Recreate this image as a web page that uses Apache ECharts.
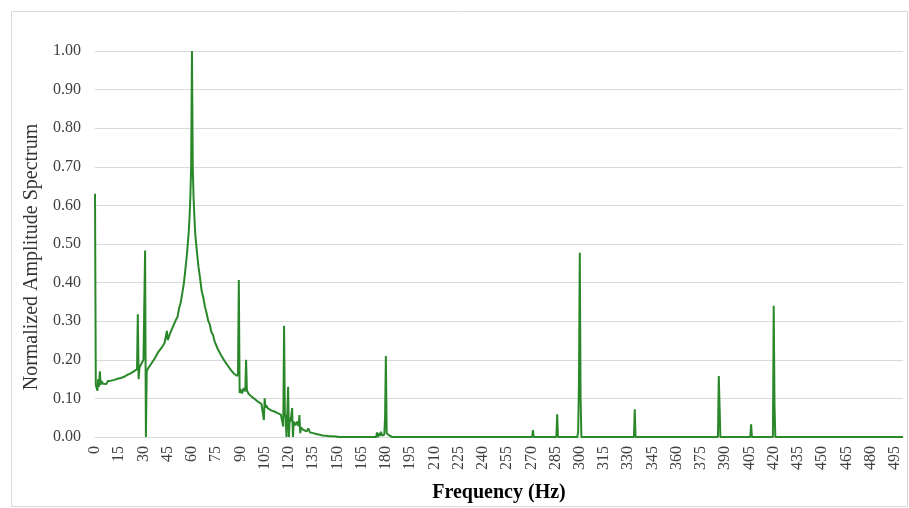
<!DOCTYPE html>
<html>
<head>
<meta charset="utf-8">
<script src="https://cdn.jsdelivr.net/npm/echarts@6/dist/echarts.min.js"></script>
<style>
html,body{margin:0;padding:0;background:#fff;}
#c{width:909px;height:508px;}
</style>
</head>
<body>
<div id="c"></div>
<script>
// Frequency (Hz) and normalized amplitude
const freq = [
  0, 0.5, 1, 1.5, 2, 2.5, 3, 3.5, 4, 5, 6, 7, 8, 9, 10, 11, 12, 13, 14, 15,
  16, 17, 18, 19, 20, 21, 22, 23, 24, 25, 26, 26.5, 27, 27.5, 28, 29, 30, 30.5, 31, 31.5,
  32, 33, 34, 35, 36, 37, 38, 39, 40, 41, 42, 43, 44, 44.5, 45, 45.5, 46, 47, 48, 49,
  50, 51, 52, 53, 54, 55, 56, 57, 58, 58.5, 59, 59.5, 60, 60.5, 61, 61.5, 62, 63, 64, 65,
  66, 67, 68, 69, 70, 71, 72, 73, 74, 75, 76, 77, 78, 79, 80, 81, 82, 83, 84, 85,
  86, 87, 88, 88.5, 89, 89.5, 90, 91, 92, 93, 93.5, 94, 95, 96, 97, 98, 99, 100, 101, 102,
  103, 104, 104.5, 105, 105.5, 106, 107, 108, 109, 110, 111, 112, 113, 114, 115, 116, 116.5, 117, 117.5, 118,
  118.5, 119, 119.5, 120, 120.5, 121, 121.5, 122, 122.5, 123, 123.5, 124, 125, 126, 126.5, 127, 127.5, 128, 129, 130,
  131, 132, 133, 134, 135, 136, 137, 138, 139, 140, 141, 142, 143, 144, 145, 146, 147, 148, 149, 150,
  151, 174, 174.5, 175, 176, 176.5, 177, 177.5, 178, 179, 179.5, 180, 180.5, 181, 182, 183, 184, 239.5, 240, 240.5,
  270.5, 271, 271.5, 285.5, 286, 286.5, 298.5, 299, 299.5, 300, 300.5, 301, 333.5, 334, 334.5, 385.5, 386, 386.5, 387, 405.5,
  406, 406.5, 419.5, 420, 420.5, 421, 500
];
const amplitude = [
  0.63, 0.135, 0.14, 0.12, 0.15, 0.13, 0.17, 0.135, 0.145, 0.138, 0.143, 0.137, 0.145, 0.14, 0.146, 0.142, 0.148, 0.145, 0.151, 0.148,
  0.153, 0.154, 0.156, 0.157, 0.161, 0.158, 0.165, 0.164, 0.17, 0.17, 0.176, 0.318, 0.15, 0.178, 0.184, 0.185, 0.2, 0.205, 0.483, 0,
  0.17, 0.179, 0.176, 0.191, 0.19, 0.204, 0.203, 0.219, 0.214, 0.23, 0.227, 0.243, 0.24, 0.275, 0.251, 0.257, 0.263, 0.268, 0.284, 0.287,
  0.303, 0.31, 0.333, 0.347, 0.372, 0.398, 0.437, 0.478, 0.532, 0.568, 0.622, 0.7, 1.0, 0.7, 0.62, 0.572, 0.528, 0.483, 0.442, 0.412,
  0.378, 0.362, 0.338, 0.322, 0.302, 0.292, 0.272, 0.265, 0.248, 0.243, 0.228, 0.225, 0.212, 0.21, 0.198, 0.197, 0.186, 0.184, 0.174, 0.172,
  0.164, 0.166, 0.158, 0.166, 0.407, 0.114, 0.124, 0.113, 0.127, 0.118, 0.2, 0.121, 0.112, 0.113, 0.104, 0.107, 0.098, 0.1, 0.091, 0.093,
  0.086, 0.088, 0.044, 0.1, 0.076, 0.082, 0.074, 0.078, 0.069, 0.073, 0.066, 0.069, 0.062, 0.066, 0.058, 0.061, 0.027, 0.288, 0.06, 0.05,
  0, 0.06, 0.13, 0, 0.05, 0.04, 0.037, 0.075, 0, 0.04, 0.035, 0.03, 0.04, 0.028, 0.057, 0.01, 0.025, 0.022, 0.018, 0.02,
  0.015, 0.022, 0.012, 0.016, 0.01, 0.014, 0.008, 0.01, 0.006, 0.007, 0.004, 0.006, 0.003, 0.005, 0.002, 0.004, 0.002, 0.003, 0.001, 0.003,
  0, 0, 0.012, 0, 0.01, 0.003, 0.014, 0.004, 0.005, 0.006, 0.05, 0.21, 0.01, 0.006, 0.004, 0.003, 0, 0, 0.002, 0,
  0, 0.018, 0, 0, 0.059, 0, 0, 0.015, 0.15, 0.477, 0.1, 0, 0, 0.072, 0, 0, 0.158, 0.155, 0, 0,
  0.033, 0, 0, 0.34, 0.08, 0, 0
];
const yTitle = 'Normalized Amplitude Spectrum';
const xTitle = 'Frequency (Hz)';

const chart = echarts.init(document.getElementById('c'), null, {renderer: 'canvas'});
const font = '"Liberation Serif", "Times New Roman", serif';
chart.setOption({
  animation: false,
  backgroundColor: '#fff',
  graphic: [{
    type: 'rect', left: 9, top: 9, silent: true,
    shape: {width: 896, height: 495},
    style: {fill: 'none', stroke: '#d9d9d9', lineWidth: 1}
  }],
  grid: {left: 95, right: 6, top: 51, bottom: 71, containLabel: false},
  xAxis: {
    type: 'value', min: 0, max: 500, interval: 15,
    name: xTitle, nameLocation: 'middle', nameGap: 46,
    nameTextStyle: {fontFamily: font, fontSize: 20, fontWeight: 'bold', color: '#000'},
    axisLine: {show: true, lineStyle: {color: '#d9d9d9', width: 1}},
    axisTick: {show: false},
    splitLine: {show: false},
    axisLabel: {rotate: 90, margin: 9, fontFamily: font, fontSize: 16, color: '#404040', showMaxLabel: false}
  },
  yAxis: {
    type: 'value', min: 0, max: 1, interval: 0.1,
    name: yTitle, nameLocation: 'middle', nameGap: 52,
    nameTextStyle: {fontFamily: font, fontSize: 20, color: '#333', padding: [0, 26, 0, 0]},
    axisLine: {show: false}, axisTick: {show: false},
    splitLine: {lineStyle: {color: '#d9d9d9', width: 1}},
    axisLabel: {margin: 14, fontFamily: font, fontSize: 16, color: '#404040',
      formatter: v => v.toFixed(2)}
  },
  series: [{
    type: 'line', showSymbol: false, symbol: 'none',
    data: freq.map((f, i) => [f, amplitude[i]]),
    lineStyle: {color: '#2a882a', width: 2},
    itemStyle: {color: '#2a882a'}
  }]
});
</script>
</body>
</html>
